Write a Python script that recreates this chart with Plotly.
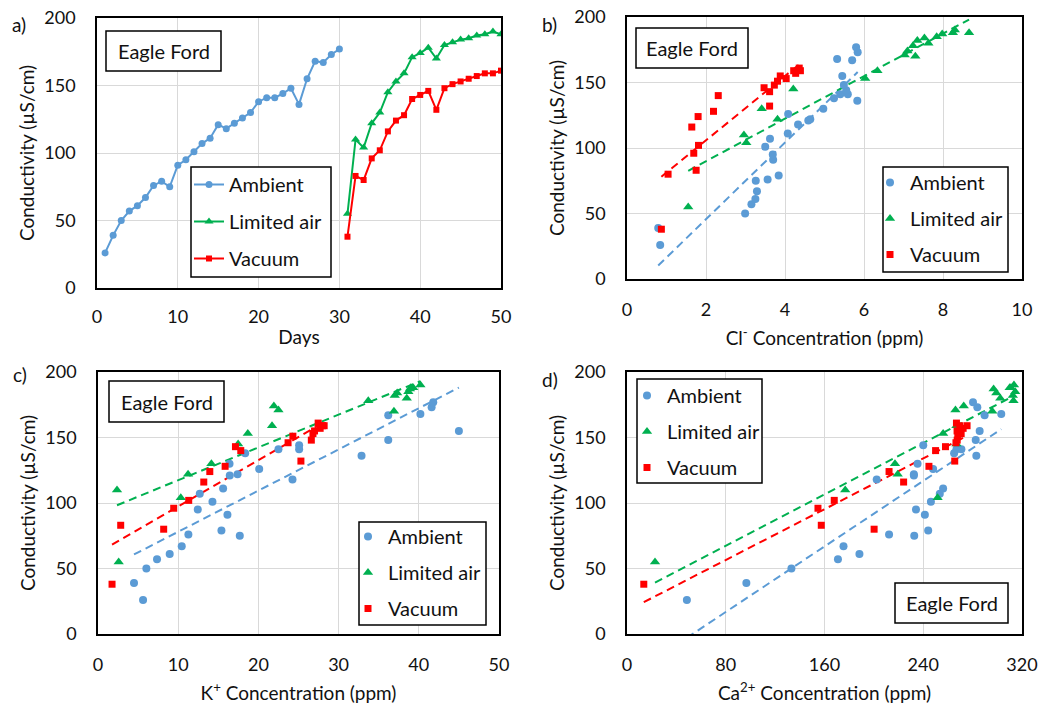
import numpy as np
import plotly.graph_objects as go

W, H = 1052, 705
BLUE, GREEN, RED = "#5B9BD5", "#00B050", "#FF0000"
FONT = "Lato"
INK = "#111111"

# ---- conductivity readings (µS/cm) ----
days_amb = [1, 2, 3, 4, 5, 6, 7, 8, 9, 10, 11, 12, 13, 14, 15,
            16, 17, 18, 19, 20, 21, 22, 23, 24, 25, 26, 27, 28, 29, 30]
days_lim = [31, 32, 33, 34, 35, 36, 37, 38, 39, 40,
            41, 42, 43, 44, 45, 46, 47, 48, 49, 50]
days_vac = [31, 32, 33, 34, 35, 36, 37, 38, 39, 40,
            41, 42, 43, 44, 45, 46, 47, 48, 49, 50]

cond_amb = [26, 39, 50, 57, 61, 67, 76, 79, 75, 91, 95, 101, 107, 111, 121,
            118, 122, 126, 130, 138, 141, 141, 144, 148, 136, 155, 168, 167, 173, 177]
cond_lim = [55, 110, 104, 122, 130, 145, 153, 159, 171, 174,
            178, 170, 180, 182, 184, 185, 187, 188, 190, 188]
cond_vac = [38, 83, 80, 96, 102, 116, 124, 128, 140, 143,
            146, 132, 148, 151, 153, 155, 157, 159, 159, 161]

# ---- ion concentrations (ppm), same sample order ----
cl_amb = [0.84, 0.79, 2.99, 3.15, 3.25, 3.29, 3.56, 3.84, 3.26, 3.70, 3.69, 3.50, 3.62, 4.07, 4.59,
          4.33, 4.64, 4.08, 4.97, 5.24, 5.40, 5.59, 5.55, 5.49, 5.83, 5.45, 5.32, 5.70, 5.84, 5.80]
cl_lim = [1.55, 2.96, 3.02, 3.81, 3.41, 4.21, 6.03, 6.34, 7.03, 7.10,
          7.24, 7.30, 7.63, 7.35, 7.53, 7.84, 7.98, 8.25, 8.30, 8.66]
cl_vac = [0.87, 1.75, 1.04, 1.69, 1.81, 1.64, 1.80, 2.19, 2.31, 3.61,
          3.47, 3.61, 3.73, 3.81, 4.03, 3.88, 4.27, 4.22, 4.39, 4.36]

k_amb = [5.62, 4.49, 6.03, 7.36, 8.94, 10.44, 11.27, 15.39, 17.68, 16.14, 12.44, 14.27, 12.69, 15.6, 16.43,
         24.25, 17.4, 20.1, 16.4, 18.35, 22.5, 25.08, 25.08, 36.19, 32.86, 45.0, 40.2, 36.19, 41.6, 41.8]
k_lim = [2.58, 2.37, 10.32, 11.23, 14.14, 17.47, 18.68, 21.7, 22.5, 21.93,
         33.7, 36.9, 38.5, 37.0, 37.3, 38.7, 38.9, 39.3, 40.2, 39.0]
k_vac = [1.75, 2.83, 8.19, 9.44, 11.31, 13.19, 13.94, 15.85, 17.8, 17.14,
         23.7, 25.3, 26.6, 24.3, 26.8, 27.0, 27.7, 28.2, 28.0, 27.45]

ca_amb = [48.5, 96.7, 133.2, 170.9, 188.3, 175.4, 212.3, 244.0, 232.7, 241.3, 234.1, 246.2, 253.4, 256.1, 232.4,
          202.3, 232.4, 248.0, 235.4, 265.0, 266.9, 270.9, 240.0, 282.5, 283.0, 285.7, 303.2, 289.7, 283.8, 280.3]
ca_lim = [22.7, 176.8, 251.6, 219.3, 217.1, 266.9, 256.1, 266.9, 266.1, 272.8,
          313.1, 295.9, 302.4, 312.6, 299.2, 314.5, 297.0, 311.0, 313.5, 310.0]
ca_vac = [13.6, 157.4, 200.2, 154.7, 167.9, 224.1, 212.3, 244.6, 250.0, 258.0,
          266.5, 265.5, 267.5, 268.0, 270.7, 267.4, 272.3, 269.6, 275.5, 266.9]

series_names = ["Ambient", "Limited air", "Vacuum"]
colors = [BLUE, GREEN, RED]
symbols = ["circle", "triangle-up", "square"]
msize = [8, 9, 7]


def px(x):
    return x / W


def py(y):
    return 1 - y / H


# plot areas in page pixels: (left, right, top, bottom)
areas = {
    "a": (97, 501, 18, 288),
    "b": (627, 1022, 17, 279),
    "c": (98, 499, 372, 634),
    "d": (627, 1022, 372, 634),
}

fig = go.Figure()

# ---- panel a: conductivity vs time ----
for i, (xd, yd) in enumerate([(days_amb, cond_amb), (days_lim, cond_lim), (days_vac, cond_vac)]):
    fig.add_trace(go.Scatter(
        x=xd, y=yd, mode="lines+markers", name=series_names[i],
        line=dict(color=colors[i], width=2),
        marker=dict(symbol=symbols[i], size=msize[i] - 1, color=colors[i]),
        xaxis="x", yaxis="y", legend="legend", legendgroup="a" + str(i),
    ))

# ---- panels b-d: conductivity vs ion concentration, with linear fits ----
panels = [
    ("x2", "y2", "legend2", "b", [cl_amb, cl_lim, cl_vac]),
    ("x3", "y3", "legend3", "c", [k_amb, k_lim, k_vac]),
    ("x4", "y4", "legend4", "d", [ca_amb, ca_lim, ca_vac]),
]
conds = [cond_amb, cond_lim, cond_vac]
for xa, ya, lg, tag, xs in panels:
    for i in range(3):
        xv = np.array(xs[i], dtype=float)
        yv = np.array(conds[i], dtype=float)
        slope, icpt = np.polyfit(xv, yv, 1)
        xf = np.array([xv.min(), xv.max()])
        fig.add_trace(go.Scatter(
            x=xf, y=slope * xf + icpt, mode="lines", showlegend=False,
            line=dict(color=colors[i], width=2, dash="8px,5px"),
            xaxis=xa, yaxis=ya, hoverinfo="skip",
        ))
    for i in range(3):
        fig.add_trace(go.Scatter(
            x=xs[i], y=conds[i], mode="markers", name=series_names[i],
            marker=dict(symbol=symbols[i], size=msize[i], color=colors[i]),
            xaxis=xa, yaxis=ya, legend=lg, legendgroup=tag + str(i),
        ))

axis_common = dict(
    showgrid=True, gridcolor="#D9D9D9", gridwidth=1, automargin=False,
    zeroline=False, showline=True, mirror=True, linecolor="#000000", linewidth=1.5,
    ticks="", tickfont=dict(family=FONT, size=18, color=INK),
    title_font=dict(family=FONT, size=19, color=INK),
)

xinfo = {
    "a": ([0, 50], 10, "Days"),
    "b": ([0, 10], 2, "Cl<sup>-</sup> Concentration (ppm)"),
    "c": ([0, 50], 10, "K<sup>+</sup> Concentration (ppm)"),
    "d": ([0, 320], 80, "Ca<sup>2+</sup> Concentration (ppm)"),
}
axis_ids = {"a": ("xaxis", "yaxis", "y", "x"), "b": ("xaxis2", "yaxis2", "y2", "x2"),
            "c": ("xaxis3", "yaxis3", "y3", "x3"), "d": ("xaxis4", "yaxis4", "y4", "x4")}
x_label_gap = {"a": 12, "b": 14, "c": 14, "d": 14}
x_title_gap = {"a": 4, "b": 12, "c": 12, "d": 12}

layout_axes = {}
for tag, (l, r, t, b) in areas.items():
    xk, yk, yref, xref = axis_ids[tag]
    rng, dt, ttl = xinfo[tag]
    layout_axes[xk] = dict(axis_common, domain=[px(l), px(r)], range=rng, dtick=dt,
                           anchor=yref, title=dict(text=ttl, standoff=x_title_gap[tag]),
                           ticklabelstandoff=x_label_gap[tag])
    layout_axes[yk] = dict(axis_common, domain=[py(b), py(t)], range=[0, 200], dtick=50,
                           anchor=xref, title=dict(text="Conductivity (µS/cm)", standoff=5),
                           ticklabelstandoff=16)

# ---- boxes for legends and site labels ----
boxes = [
    (191, 167, 331, 277), (883, 167, 1008, 272), (359, 522, 486, 625), (637, 379, 762, 483),
    (106, 31, 221, 71), (636, 28, 748, 68), (109, 381, 224, 422), (895, 583, 1008, 623),
]
shapes = [dict(type="rect", xref="paper", yref="paper", x0=px(x0), x1=px(x1), y0=py(y1), y1=py(y0),
               line=dict(color="#000000", width=1.5), fillcolor="white", layer="above")
          for x0, y0, x1, y1 in boxes]

annotations = []
for cx, cy in [(163.5, 51), (692, 48), (166.5, 401.5), (951.5, 603)]:
    annotations.append(dict(text="Eagle Ford", x=px(cx), y=py(cy), xref="paper", yref="paper",
                            showarrow=False, xanchor="center", yanchor="middle",
                            font=dict(family=FONT, size=20, color=INK)))
for lab, (lx, ly) in zip(["a)", "b)", "c)", "d)"], [(10, 24), (540, 24), (11, 374), (540, 379)]):
    annotations.append(dict(text=lab, x=px(lx), y=py(ly), xref="paper", yref="paper",
                            showarrow=False, xanchor="left", yanchor="middle",
                            font=dict(family=FONT, size=19, color=INK)))

legend_common = dict(bgcolor="rgba(0,0,0,0)", borderwidth=0, xanchor="left", yanchor="top",
                     font=dict(family=FONT, size=20, color=INK), traceorder="grouped",
                     itemsizing="trace")
legends = {
    "legend": dict(legend_common, x=px(189), y=py(165), tracegroupgap=8),
    "legend2": dict(legend_common, x=px(870), y=py(163), tracegroupgap=7),
    "legend3": dict(legend_common, x=px(348), y=py(517), tracegroupgap=7),
    "legend4": dict(legend_common, x=px(627), y=py(376), tracegroupgap=7),
}

fig.update_layout(
    width=W, height=H, margin=dict(l=0, r=0, t=0, b=0, pad=0, autoexpand=False),
    paper_bgcolor="white", plot_bgcolor="white",
    font=dict(family=FONT, size=18, color=INK),
    shapes=shapes, annotations=annotations,
    **layout_axes, **legends,
)

fig.write_html("out.html")
